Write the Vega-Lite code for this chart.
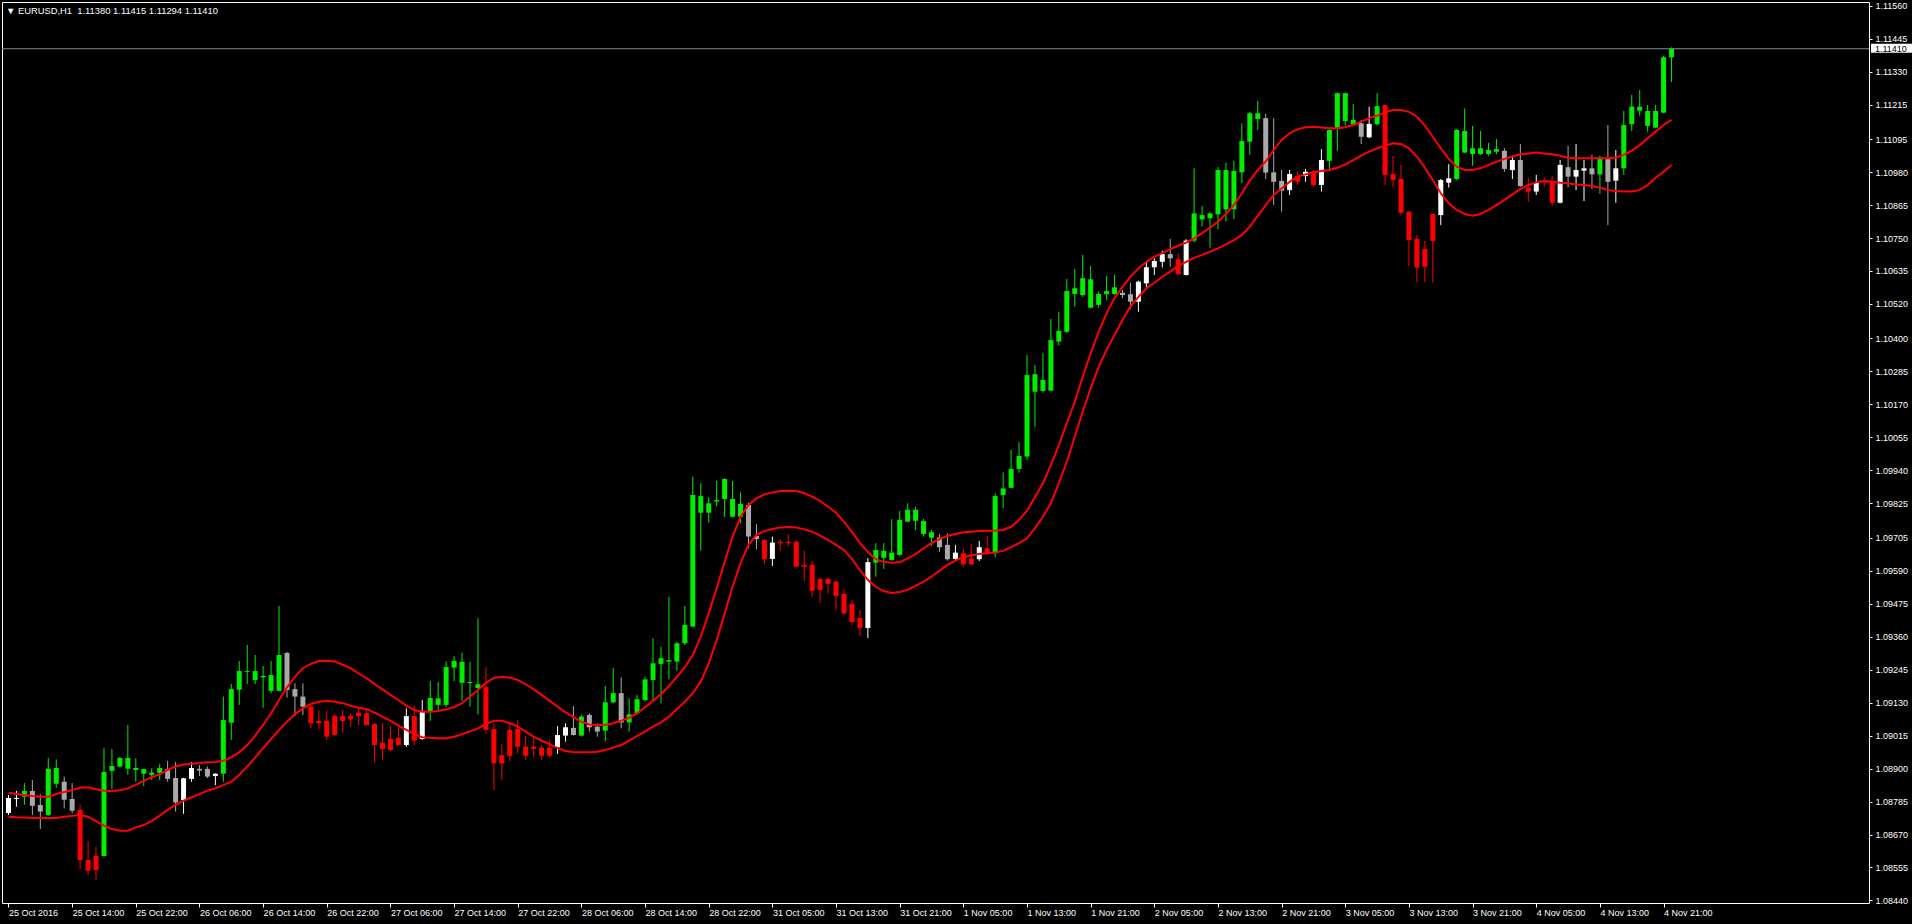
{
"$schema":"https://vega.github.io/schema/vega-lite/v6.json",
"width":1867,"height":901,
"autosize":{"type":"none"},
"padding":{"left":2,"top":2,"right":43,"bottom":21},
"background":"#000000",
"config":{"view":{"stroke":"#ffffff","strokeWidth":1},
 "axis":{"labelFont":"Liberation Sans","labelFontSize":9,"labelColor":"#ffffff","tickColor":"#ffffff","tickWidth":1,"domain":false,"grid":false},
 "axisX":{"tickSize":4,"labelPadding":1},
 "axisY":{"tickSize":3,"labelPadding":3}},
"title":{"text":"▼ EURUSD,H1 \u00a01.11380 1.11415 1.11294 1.11410","anchor":"start","frame":"group","orient":"top","offset":-15,"dx":4,"color":"#ffffff","font":"Liberation Sans","fontSize":9.4,"fontWeight":"normal"},
"data":{"values":[
{"i":0,"o":1.08745,"h":1.08808,"l":1.08738,"c":1.08797,"s":"flatUp","up":1.08816,"lo":1.08732},
{"i":1,"o":1.08794,"h":1.08822,"l":1.08767,"c":1.08797,"s":"flatUp","up":1.08811,"lo":1.08730},
{"i":2,"o":1.08802,"h":1.08849,"l":1.08773,"c":1.08822,"s":"up","up":1.08808,"lo":1.08729},
{"i":3,"o":1.08822,"h":1.08860,"l":1.08738,"c":1.08770,"s":"flatDown","up":1.08804,"lo":1.08728},
{"i":4,"o":1.08773,"h":1.08810,"l":1.08689,"c":1.08750,"s":"flatDown","up":1.08802,"lo":1.08728},
{"i":5,"o":1.08738,"h":1.08937,"l":1.08735,"c":1.08899,"s":"up","up":1.08802,"lo":1.08728},
{"i":6,"o":1.08847,"h":1.08932,"l":1.08833,"c":1.08902,"s":"up","up":1.08811,"lo":1.08728},
{"i":7,"o":1.08854,"h":1.08872,"l":1.08761,"c":1.08791,"s":"flatDown","up":1.08818,"lo":1.08732},
{"i":8,"o":1.08794,"h":1.08849,"l":1.08744,"c":1.08753,"s":"flatDown","up":1.08825,"lo":1.08735},
{"i":9,"o":1.08756,"h":1.08775,"l":1.08549,"c":1.08581,"s":"down","up":1.08833,"lo":1.08738},
{"i":10,"o":1.08581,"h":1.08647,"l":1.08529,"c":1.08544,"s":"down","up":1.08835,"lo":1.08732},
{"i":11,"o":1.08596,"h":1.08628,"l":1.08511,"c":1.08546,"s":"down","up":1.08828,"lo":1.08717},
{"i":12,"o":1.08595,"h":1.08971,"l":1.08593,"c":1.08888,"s":"up","up":1.08823,"lo":1.08701},
{"i":13,"o":1.08892,"h":1.08968,"l":1.08828,"c":1.08909,"s":"up","up":1.08822,"lo":1.08689},
{"i":14,"o":1.08907,"h":1.08941,"l":1.08904,"c":1.08937,"s":"up","up":1.08824,"lo":1.08683},
{"i":15,"o":1.08899,"h":1.09052,"l":1.08878,"c":1.08937,"s":"up","up":1.08831,"lo":1.08683},
{"i":16,"o":1.08895,"h":1.08936,"l":1.08854,"c":1.08902,"s":"up","up":1.08843,"lo":1.08695},
{"i":17,"o":1.08882,"h":1.08900,"l":1.08839,"c":1.08898,"s":"up","up":1.08857,"lo":1.08703},
{"i":18,"o":1.08878,"h":1.08901,"l":1.08860,"c":1.08886,"s":"up","up":1.08870,"lo":1.08717},
{"i":19,"o":1.08885,"h":1.08915,"l":1.08860,"c":1.08902,"s":"up","up":1.08880,"lo":1.08736},
{"i":20,"o":1.08899,"h":1.08926,"l":1.08854,"c":1.08864,"s":"flatDown","up":1.08895,"lo":1.08756},
{"i":21,"o":1.08867,"h":1.08923,"l":1.08750,"c":1.08782,"s":"flatDown","up":1.08907,"lo":1.08773},
{"i":22,"o":1.08790,"h":1.08868,"l":1.08742,"c":1.08866,"s":"flatUp","up":1.08914,"lo":1.08788},
{"i":23,"o":1.08864,"h":1.08922,"l":1.08854,"c":1.08902,"s":"flatUp","up":1.08917,"lo":1.08800},
{"i":24,"o":1.08899,"h":1.08912,"l":1.08874,"c":1.08893,"s":"flatDown","up":1.08919,"lo":1.08811},
{"i":25,"o":1.08899,"h":1.08907,"l":1.08867,"c":1.08872,"s":"flatDown","up":1.08922,"lo":1.08823},
{"i":26,"o":1.08874,"h":1.08884,"l":1.08842,"c":1.08882,"s":"flatUp","up":1.08923,"lo":1.08831},
{"i":27,"o":1.08882,"h":1.09151,"l":1.08854,"c":1.09069,"s":"up","up":1.08927,"lo":1.08842},
{"i":28,"o":1.09060,"h":1.09195,"l":1.09000,"c":1.09177,"s":"up","up":1.08939,"lo":1.08854},
{"i":29,"o":1.09175,"h":1.09275,"l":1.09122,"c":1.09240,"s":"up","up":1.08957,"lo":1.08878},
{"i":30,"o":1.09237,"h":1.09331,"l":1.09195,"c":1.09240,"s":"up","up":1.08982,"lo":1.08907},
{"i":31,"o":1.09209,"h":1.09296,"l":1.09195,"c":1.09240,"s":"up","up":1.09015,"lo":1.08938},
{"i":32,"o":1.09218,"h":1.09258,"l":1.09112,"c":1.09223,"s":"up","up":1.09052,"lo":1.08971},
{"i":33,"o":1.09171,"h":1.09275,"l":1.09163,"c":1.09226,"s":"up","up":1.09093,"lo":1.09003},
{"i":34,"o":1.09171,"h":1.09467,"l":1.09170,"c":1.09296,"s":"up","up":1.09139,"lo":1.09035},
{"i":35,"o":1.09303,"h":1.09307,"l":1.09147,"c":1.09174,"s":"flatDown","up":1.09183,"lo":1.09063},
{"i":36,"o":1.09177,"h":1.09197,"l":1.09083,"c":1.09151,"s":"flatDown","up":1.09220,"lo":1.09089},
{"i":37,"o":1.09151,"h":1.09197,"l":1.09087,"c":1.09116,"s":"flatDown","up":1.09250,"lo":1.09110},
{"i":38,"o":1.09116,"h":1.09128,"l":1.09040,"c":1.09058,"s":"down","up":1.09265,"lo":1.09125},
{"i":39,"o":1.09066,"h":1.09104,"l":1.09038,"c":1.09058,"s":"down","up":1.09275,"lo":1.09133},
{"i":40,"o":1.09066,"h":1.09101,"l":1.09000,"c":1.09011,"s":"down","up":1.09276,"lo":1.09136},
{"i":41,"o":1.09084,"h":1.09089,"l":1.09015,"c":1.09017,"s":"down","up":1.09273,"lo":1.09133},
{"i":42,"o":1.09083,"h":1.09104,"l":1.09025,"c":1.09066,"s":"down","up":1.09262,"lo":1.09128},
{"i":43,"o":1.09083,"h":1.09093,"l":1.09046,"c":1.09072,"s":"down","up":1.09250,"lo":1.09119},
{"i":44,"o":1.09095,"h":1.09110,"l":1.09052,"c":1.09083,"s":"down","up":1.09232,"lo":1.09112},
{"i":45,"o":1.09093,"h":1.09110,"l":1.09050,"c":1.09052,"s":"down","up":1.09215,"lo":1.09107},
{"i":46,"o":1.09055,"h":1.09058,"l":1.08921,"c":1.08982,"s":"down","up":1.09195,"lo":1.09095},
{"i":47,"o":1.08990,"h":1.09058,"l":1.08930,"c":1.08968,"s":"down","up":1.09176,"lo":1.09081},
{"i":48,"o":1.09003,"h":1.09048,"l":1.08959,"c":1.08965,"s":"down","up":1.09157,"lo":1.09066},
{"i":49,"o":1.09007,"h":1.09046,"l":1.08980,"c":1.08982,"s":"down","up":1.09139,"lo":1.09050},
{"i":50,"o":1.08982,"h":1.09110,"l":1.08976,"c":1.09083,"s":"flatUp","up":1.09119,"lo":1.09035},
{"i":51,"o":1.09083,"h":1.09119,"l":1.08982,"c":1.08997,"s":"down","up":1.09104,"lo":1.09020},
{"i":52,"o":1.09003,"h":1.09139,"l":1.09000,"c":1.09098,"s":"flatUp","up":1.09098,"lo":1.09009},
{"i":53,"o":1.09101,"h":1.09205,"l":1.09066,"c":1.09146,"s":"up","up":1.09098,"lo":1.09007},
{"i":54,"o":1.09122,"h":1.09202,"l":1.09104,"c":1.09145,"s":"up","up":1.09101,"lo":1.09006},
{"i":55,"o":1.09122,"h":1.09274,"l":1.09114,"c":1.09254,"s":"up","up":1.09107,"lo":1.09006},
{"i":56,"o":1.09252,"h":1.09293,"l":1.09205,"c":1.09275,"s":"up","up":1.09114,"lo":1.09011},
{"i":57,"o":1.09199,"h":1.09304,"l":1.09136,"c":1.09272,"s":"up","up":1.09128,"lo":1.09020},
{"i":58,"o":1.09198,"h":1.09271,"l":1.09116,"c":1.09202,"s":"up","up":1.09151,"lo":1.09029},
{"i":59,"o":1.09181,"h":1.09424,"l":1.09089,"c":1.09194,"s":"up","up":1.09174,"lo":1.09040},
{"i":60,"o":1.09184,"h":1.09253,"l":1.09021,"c":1.09035,"s":"down","up":1.09199,"lo":1.09055},
{"i":61,"o":1.09038,"h":1.09058,"l":1.08825,"c":1.08918,"s":"down","up":1.09216,"lo":1.09067},
{"i":62,"o":1.08947,"h":1.08986,"l":1.08860,"c":1.08918,"s":"down","up":1.09220,"lo":1.09067},
{"i":63,"o":1.09035,"h":1.09058,"l":1.08926,"c":1.08944,"s":"down","up":1.09217,"lo":1.09058},
{"i":64,"o":1.09038,"h":1.09069,"l":1.08953,"c":1.08976,"s":"down","up":1.09209,"lo":1.09046},
{"i":65,"o":1.08976,"h":1.09014,"l":1.08930,"c":1.08945,"s":"down","up":1.09194,"lo":1.09029},
{"i":66,"o":1.08976,"h":1.09011,"l":1.08939,"c":1.08969,"s":"down","up":1.09176,"lo":1.09011},
{"i":67,"o":1.08973,"h":1.08982,"l":1.08930,"c":1.08945,"s":"down","up":1.09157,"lo":1.08997},
{"i":68,"o":1.08973,"h":1.09000,"l":1.08939,"c":1.08945,"s":"down","up":1.09137,"lo":1.08985},
{"i":69,"o":1.08974,"h":1.09048,"l":1.08951,"c":1.09017,"s":"flatUp","up":1.09116,"lo":1.08971},
{"i":70,"o":1.09015,"h":1.09058,"l":1.08994,"c":1.09044,"s":"flatUp","up":1.09096,"lo":1.08961},
{"i":71,"o":1.09042,"h":1.09118,"l":1.09015,"c":1.09017,"s":"flatDown","up":1.09079,"lo":1.08958},
{"i":72,"o":1.09015,"h":1.09087,"l":1.09011,"c":1.09081,"s":"up","up":1.09063,"lo":1.08957},
{"i":73,"o":1.09087,"h":1.09093,"l":1.09029,"c":1.09044,"s":"flatDown","up":1.09054,"lo":1.08957},
{"i":74,"o":1.09046,"h":1.09058,"l":1.09011,"c":1.09029,"s":"flatDown","up":1.09052,"lo":1.08959},
{"i":75,"o":1.09032,"h":1.09188,"l":1.08994,"c":1.09131,"s":"up","up":1.09052,"lo":1.08965},
{"i":76,"o":1.09131,"h":1.09250,"l":1.09128,"c":1.09163,"s":"up","up":1.09058,"lo":1.08973},
{"i":77,"o":1.09163,"h":1.09218,"l":1.09040,"c":1.09061,"s":"flatDown","up":1.09067,"lo":1.08982},
{"i":78,"o":1.09061,"h":1.09145,"l":1.09029,"c":1.09089,"s":"up","up":1.09077,"lo":1.08997},
{"i":79,"o":1.09093,"h":1.09157,"l":1.09087,"c":1.09142,"s":"up","up":1.09093,"lo":1.09014},
{"i":80,"o":1.09139,"h":1.09220,"l":1.09133,"c":1.09211,"s":"up","up":1.09114,"lo":1.09029},
{"i":81,"o":1.09209,"h":1.09354,"l":1.09139,"c":1.09267,"s":"up","up":1.09136,"lo":1.09046},
{"i":82,"o":1.09265,"h":1.09325,"l":1.09128,"c":1.09285,"s":"up","up":1.09160,"lo":1.09061},
{"i":83,"o":1.09273,"h":1.09499,"l":1.09211,"c":1.09278,"s":"up","up":1.09188,"lo":1.09081},
{"i":84,"o":1.09273,"h":1.09342,"l":1.09241,"c":1.09337,"s":"up","up":1.09220,"lo":1.09107},
{"i":85,"o":1.09337,"h":1.09467,"l":1.09331,"c":1.09401,"s":"up","up":1.09253,"lo":1.09133},
{"i":86,"o":1.09395,"h":1.09918,"l":1.09393,"c":1.09854,"s":"up","up":1.09296,"lo":1.09163},
{"i":87,"o":1.09792,"h":1.09895,"l":1.09660,"c":1.09850,"s":"up","up":1.09360,"lo":1.09203},
{"i":88,"o":1.09792,"h":1.09846,"l":1.09757,"c":1.09825,"s":"up","up":1.09441,"lo":1.09267},
{"i":89,"o":1.09831,"h":1.09903,"l":1.09813,"c":1.09836,"s":"up","up":1.09529,"lo":1.09348},
{"i":90,"o":1.09840,"h":1.09912,"l":1.09778,"c":1.09910,"s":"up","up":1.09621,"lo":1.09441},
{"i":91,"o":1.09840,"h":1.09903,"l":1.09776,"c":1.09778,"s":"up","up":1.09709,"lo":1.09534},
{"i":92,"o":1.09778,"h":1.09863,"l":1.09755,"c":1.09823,"s":"up","up":1.09778,"lo":1.09616},
{"i":93,"o":1.09819,"h":1.09827,"l":1.09668,"c":1.09709,"s":"flatDown","up":1.09819,"lo":1.09680},
{"i":94,"o":1.09711,"h":1.09752,"l":1.09665,"c":1.09700,"s":"flatDown","up":1.09842,"lo":1.09715},
{"i":95,"o":1.09697,"h":1.09700,"l":1.09612,"c":1.09630,"s":"down","up":1.09856,"lo":1.09728},
{"i":96,"o":1.09631,"h":1.09709,"l":1.09606,"c":1.09688,"s":"flatUp","up":1.09863,"lo":1.09735},
{"i":97,"o":1.09691,"h":1.09700,"l":1.09659,"c":1.09686,"s":"down","up":1.09868,"lo":1.09741},
{"i":98,"o":1.09691,"h":1.09717,"l":1.09674,"c":1.09686,"s":"down","up":1.09869,"lo":1.09742},
{"i":99,"o":1.09691,"h":1.09697,"l":1.09602,"c":1.09604,"s":"down","up":1.09868,"lo":1.09741},
{"i":100,"o":1.09610,"h":1.09659,"l":1.09554,"c":1.09604,"s":"down","up":1.09860,"lo":1.09734},
{"i":101,"o":1.09610,"h":1.09624,"l":1.09499,"c":1.09520,"s":"down","up":1.09848,"lo":1.09726},
{"i":102,"o":1.09561,"h":1.09567,"l":1.09478,"c":1.09523,"s":"down","up":1.09833,"lo":1.09712},
{"i":103,"o":1.09561,"h":1.09567,"l":1.09511,"c":1.09544,"s":"down","up":1.09813,"lo":1.09697},
{"i":104,"o":1.09552,"h":1.09554,"l":1.09451,"c":1.09502,"s":"down","up":1.09792,"lo":1.09680},
{"i":105,"o":1.09509,"h":1.09526,"l":1.09436,"c":1.09441,"s":"down","up":1.09760,"lo":1.09662},
{"i":106,"o":1.09474,"h":1.09488,"l":1.09401,"c":1.09411,"s":"down","up":1.09725,"lo":1.09631},
{"i":107,"o":1.09425,"h":1.09453,"l":1.09362,"c":1.09390,"s":"down","up":1.09687,"lo":1.09592},
{"i":108,"o":1.09390,"h":1.09634,"l":1.09355,"c":1.09620,"s":"flatUp","up":1.09655,"lo":1.09558},
{"i":109,"o":1.09618,"h":1.09686,"l":1.09569,"c":1.09662,"s":"up","up":1.09630,"lo":1.09533},
{"i":110,"o":1.09635,"h":1.09686,"l":1.09596,"c":1.09659,"s":"up","up":1.09620,"lo":1.09519},
{"i":111,"o":1.09627,"h":1.09770,"l":1.09625,"c":1.09653,"s":"up","up":1.09618,"lo":1.09512},
{"i":112,"o":1.09645,"h":1.09798,"l":1.09642,"c":1.09767,"s":"up","up":1.09619,"lo":1.09516},
{"i":113,"o":1.09761,"h":1.09825,"l":1.09759,"c":1.09802,"s":"up","up":1.09633,"lo":1.09523},
{"i":114,"o":1.09764,"h":1.09813,"l":1.09732,"c":1.09802,"s":"up","up":1.09648,"lo":1.09537},
{"i":115,"o":1.09763,"h":1.09770,"l":1.09709,"c":1.09718,"s":"up","up":1.09668,"lo":1.09552},
{"i":116,"o":1.09724,"h":1.09732,"l":1.09677,"c":1.09705,"s":"up","up":1.09686,"lo":1.09569},
{"i":117,"o":1.09705,"h":1.09718,"l":1.09656,"c":1.09672,"s":"flatDown","up":1.09700,"lo":1.09590},
{"i":118,"o":1.09680,"h":1.09720,"l":1.09625,"c":1.09630,"s":"flatDown","up":1.09711,"lo":1.09610},
{"i":119,"o":1.09631,"h":1.09680,"l":1.09628,"c":1.09653,"s":"flatUp","up":1.09718,"lo":1.09625},
{"i":120,"o":1.09651,"h":1.09665,"l":1.09602,"c":1.09612,"s":"down","up":1.09724,"lo":1.09637},
{"i":121,"o":1.09633,"h":1.09683,"l":1.09610,"c":1.09612,"s":"down","up":1.09726,"lo":1.09644},
{"i":122,"o":1.09630,"h":1.09694,"l":1.09624,"c":1.09672,"s":"flatUp","up":1.09728,"lo":1.09648},
{"i":123,"o":1.09668,"h":1.09711,"l":1.09646,"c":1.09648,"s":"down","up":1.09729,"lo":1.09651},
{"i":124,"o":1.09651,"h":1.09860,"l":1.09637,"c":1.09850,"s":"up","up":1.09729,"lo":1.09653},
{"i":125,"o":1.09854,"h":1.09933,"l":1.09808,"c":1.09877,"s":"up","up":1.09732,"lo":1.09659},
{"i":126,"o":1.09879,"h":1.10011,"l":1.09878,"c":1.09945,"s":"up","up":1.09743,"lo":1.09672},
{"i":127,"o":1.09945,"h":1.10038,"l":1.09932,"c":1.09990,"s":"up","up":1.09767,"lo":1.09686},
{"i":128,"o":1.09988,"h":1.10342,"l":1.09976,"c":1.10272,"s":"up","up":1.09799,"lo":1.09703},
{"i":129,"o":1.10275,"h":1.10307,"l":1.10092,"c":1.10214,"s":"up","up":1.09846,"lo":1.09738},
{"i":130,"o":1.10217,"h":1.10348,"l":1.10211,"c":1.10255,"s":"up","up":1.09895,"lo":1.09778},
{"i":131,"o":1.10218,"h":1.10468,"l":1.10216,"c":1.10394,"s":"up","up":1.09959,"lo":1.09825},
{"i":132,"o":1.10389,"h":1.10493,"l":1.10375,"c":1.10426,"s":"up","up":1.10028,"lo":1.09895},
{"i":133,"o":1.10423,"h":1.10607,"l":1.10418,"c":1.10565,"s":"up","up":1.10104,"lo":1.09970},
{"i":134,"o":1.10555,"h":1.10642,"l":1.10511,"c":1.10575,"s":"up","up":1.10179,"lo":1.10057},
{"i":135,"o":1.10551,"h":1.10691,"l":1.10545,"c":1.10610,"s":"up","up":1.10266,"lo":1.10144},
{"i":136,"o":1.10606,"h":1.10653,"l":1.10505,"c":1.10507,"s":"up","up":1.10348,"lo":1.10226},
{"i":137,"o":1.10517,"h":1.10563,"l":1.10507,"c":1.10555,"s":"up","up":1.10423,"lo":1.10301},
{"i":138,"o":1.10554,"h":1.10618,"l":1.10534,"c":1.10565,"s":"up","up":1.10488,"lo":1.10360},
{"i":139,"o":1.10555,"h":1.10621,"l":1.10551,"c":1.10578,"s":"up","up":1.10540,"lo":1.10412},
{"i":140,"o":1.10559,"h":1.10569,"l":1.10540,"c":1.10551,"s":"flatDown","up":1.10580,"lo":1.10464},
{"i":141,"o":1.10554,"h":1.10594,"l":1.10502,"c":1.10528,"s":"flatDown","up":1.10615,"lo":1.10511},
{"i":142,"o":1.10528,"h":1.10601,"l":1.10493,"c":1.10598,"s":"flatUp","up":1.10644,"lo":1.10545},
{"i":143,"o":1.10592,"h":1.10667,"l":1.10577,"c":1.10648,"s":"flatUp","up":1.10667,"lo":1.10575},
{"i":144,"o":1.10648,"h":1.10679,"l":1.10621,"c":1.10670,"s":"flatUp","up":1.10685,"lo":1.10594},
{"i":145,"o":1.10667,"h":1.10706,"l":1.10647,"c":1.10694,"s":"flatUp","up":1.10697,"lo":1.10615},
{"i":146,"o":1.10694,"h":1.10747,"l":1.10650,"c":1.10679,"s":"flatDown","up":1.10711,"lo":1.10633},
{"i":147,"o":1.10676,"h":1.10697,"l":1.10619,"c":1.10624,"s":"down","up":1.10723,"lo":1.10653},
{"i":148,"o":1.10621,"h":1.10746,"l":1.10619,"c":1.10741,"s":"flatUp","up":1.10734,"lo":1.10667},
{"i":149,"o":1.10741,"h":1.10993,"l":1.10735,"c":1.10836,"s":"up","up":1.10749,"lo":1.10681},
{"i":150,"o":1.10830,"h":1.10862,"l":1.10790,"c":1.10815,"s":"up","up":1.10767,"lo":1.10691},
{"i":151,"o":1.10819,"h":1.10840,"l":1.10716,"c":1.10836,"s":"up","up":1.10786,"lo":1.10702},
{"i":152,"o":1.10833,"h":1.10997,"l":1.10780,"c":1.10987,"s":"up","up":1.10807,"lo":1.10714},
{"i":153,"o":1.10987,"h":1.11013,"l":1.10807,"c":1.10850,"s":"up","up":1.10834,"lo":1.10728},
{"i":154,"o":1.10850,"h":1.11019,"l":1.10816,"c":1.10984,"s":"up","up":1.10865,"lo":1.10743},
{"i":155,"o":1.10979,"h":1.11150,"l":1.10941,"c":1.11088,"s":"up","up":1.10906,"lo":1.10761},
{"i":156,"o":1.11086,"h":1.11190,"l":1.11040,"c":1.11185,"s":"up","up":1.10950,"lo":1.10790},
{"i":157,"o":1.11165,"h":1.11228,"l":1.11127,"c":1.11185,"s":"up","up":1.10987,"lo":1.10827},
{"i":158,"o":1.11168,"h":1.11183,"l":1.10955,"c":1.10978,"s":"flatDown","up":1.11017,"lo":1.10865},
{"i":159,"o":1.10979,"h":1.11168,"l":1.10865,"c":1.10946,"s":"flatDown","up":1.11057,"lo":1.10900},
{"i":160,"o":1.10949,"h":1.10987,"l":1.10842,"c":1.10915,"s":"flatDown","up":1.11092,"lo":1.10923},
{"i":161,"o":1.10917,"h":1.10987,"l":1.10900,"c":1.10973,"s":"flatUp","up":1.11115,"lo":1.10946},
{"i":162,"o":1.10966,"h":1.10981,"l":1.10935,"c":1.10946,"s":"down","up":1.11129,"lo":1.10964},
{"i":163,"o":1.10966,"h":1.10991,"l":1.10946,"c":1.10981,"s":"flatUp","up":1.11136,"lo":1.10972},
{"i":164,"o":1.10981,"h":1.10987,"l":1.10929,"c":1.10935,"s":"down","up":1.11138,"lo":1.10979},
{"i":165,"o":1.10935,"h":1.11060,"l":1.10912,"c":1.11022,"s":"flatUp","up":1.11135,"lo":1.10984},
{"i":166,"o":1.11019,"h":1.11129,"l":1.10987,"c":1.11127,"s":"up","up":1.11133,"lo":1.10987},
{"i":167,"o":1.11133,"h":1.11257,"l":1.11054,"c":1.11255,"s":"up","up":1.11133,"lo":1.10995},
{"i":168,"o":1.11255,"h":1.11257,"l":1.11142,"c":1.11158,"s":"up","up":1.11136,"lo":1.11007},
{"i":169,"o":1.11162,"h":1.11217,"l":1.11142,"c":1.11147,"s":"up","up":1.11144,"lo":1.11022},
{"i":170,"o":1.11150,"h":1.11162,"l":1.11078,"c":1.11103,"s":"flatDown","up":1.11156,"lo":1.11037},
{"i":171,"o":1.11101,"h":1.11208,"l":1.11098,"c":1.11148,"s":"flatUp","up":1.11168,"lo":1.11051},
{"i":172,"o":1.11147,"h":1.11255,"l":1.11142,"c":1.11210,"s":"up","up":1.11177,"lo":1.11063},
{"i":173,"o":1.11214,"h":1.11216,"l":1.10935,"c":1.10970,"s":"down","up":1.11188,"lo":1.11072},
{"i":174,"o":1.10973,"h":1.11036,"l":1.10929,"c":1.10952,"s":"down","up":1.11196,"lo":1.11080},
{"i":175,"o":1.10956,"h":1.11005,"l":1.10828,"c":1.10838,"s":"down","up":1.11196,"lo":1.11078},
{"i":176,"o":1.10842,"h":1.10844,"l":1.10653,"c":1.10743,"s":"down","up":1.11190,"lo":1.11063},
{"i":177,"o":1.10747,"h":1.10761,"l":1.10596,"c":1.10647,"s":"down","up":1.11173,"lo":1.11034},
{"i":178,"o":1.10650,"h":1.10740,"l":1.10596,"c":1.10712,"s":"down","up":1.11142,"lo":1.10995},
{"i":179,"o":1.10740,"h":1.10835,"l":1.10594,"c":1.10834,"s":"down","up":1.11103,"lo":1.10952},
{"i":180,"o":1.10830,"h":1.10956,"l":1.10795,"c":1.10952,"s":"flatUp","up":1.11063,"lo":1.10906},
{"i":181,"o":1.10943,"h":1.11008,"l":1.10926,"c":1.10958,"s":"flatUp","up":1.11026,"lo":1.10871},
{"i":182,"o":1.10956,"h":1.11130,"l":1.10952,"c":1.11127,"s":"up","up":1.10999,"lo":1.10848},
{"i":183,"o":1.11123,"h":1.11202,"l":1.11047,"c":1.11048,"s":"up","up":1.10987,"lo":1.10834},
{"i":184,"o":1.11043,"h":1.11141,"l":1.11002,"c":1.11063,"s":"up","up":1.10987,"lo":1.10828},
{"i":185,"o":1.11063,"h":1.11123,"l":1.11040,"c":1.11043,"s":"up","up":1.10993,"lo":1.10834},
{"i":186,"o":1.11043,"h":1.11082,"l":1.11037,"c":1.11057,"s":"up","up":1.11005,"lo":1.10848},
{"i":187,"o":1.11051,"h":1.11095,"l":1.11042,"c":1.11060,"s":"up","up":1.11016,"lo":1.10865},
{"i":188,"o":1.11054,"h":1.11063,"l":1.10981,"c":1.10991,"s":"flatDown","up":1.11026,"lo":1.10883},
{"i":189,"o":1.10987,"h":1.11037,"l":1.10956,"c":1.11022,"s":"flatUp","up":1.11034,"lo":1.10902},
{"i":190,"o":1.11022,"h":1.11078,"l":1.10929,"c":1.10931,"s":"flatDown","up":1.11042,"lo":1.10921},
{"i":191,"o":1.10926,"h":1.10960,"l":1.10877,"c":1.10912,"s":"down","up":1.11045,"lo":1.10935},
{"i":192,"o":1.10912,"h":1.10970,"l":1.10900,"c":1.10943,"s":"flatUp","up":1.11048,"lo":1.10944},
{"i":193,"o":1.10949,"h":1.10960,"l":1.10929,"c":1.10944,"s":"down","up":1.11045,"lo":1.10949},
{"i":194,"o":1.10946,"h":1.10966,"l":1.10863,"c":1.10873,"s":"down","up":1.11042,"lo":1.10946},
{"i":195,"o":1.10873,"h":1.11022,"l":1.10871,"c":1.11005,"s":"flatUp","up":1.11037,"lo":1.10943},
{"i":196,"o":1.10997,"h":1.11071,"l":1.10926,"c":1.10964,"s":"flatDown","up":1.11030,"lo":1.10941},
{"i":197,"o":1.10964,"h":1.11078,"l":1.10917,"c":1.10987,"s":"flatUp","up":1.11028,"lo":1.10937},
{"i":198,"o":1.10985,"h":1.11022,"l":1.10879,"c":1.10993,"s":"flatUp","up":1.11028,"lo":1.10935},
{"i":199,"o":1.10993,"h":1.11040,"l":1.10921,"c":1.10972,"s":"flatDown","up":1.11028,"lo":1.10931},
{"i":200,"o":1.10972,"h":1.11037,"l":1.10904,"c":1.11031,"s":"up","up":1.11028,"lo":1.10926},
{"i":201,"o":1.11025,"h":1.11144,"l":1.10795,"c":1.10946,"s":"flatDown","up":1.11028,"lo":1.10917},
{"i":202,"o":1.10950,"h":1.11057,"l":1.10873,"c":1.10993,"s":"flatUp","up":1.11031,"lo":1.10914},
{"i":203,"o":1.10993,"h":1.11193,"l":1.10970,"c":1.11144,"s":"up","up":1.11040,"lo":1.10912},
{"i":204,"o":1.11147,"h":1.11249,"l":1.11123,"c":1.11208,"s":"up","up":1.11055,"lo":1.10912},
{"i":205,"o":1.11208,"h":1.11266,"l":1.11176,"c":1.11194,"s":"up","up":1.11074,"lo":1.10917},
{"i":206,"o":1.11193,"h":1.11214,"l":1.11121,"c":1.11141,"s":"up","up":1.11098,"lo":1.10935},
{"i":207,"o":1.11135,"h":1.11214,"l":1.11133,"c":1.11193,"s":"up","up":1.11121,"lo":1.10960},
{"i":208,"o":1.11187,"h":1.11385,"l":1.11185,"c":1.11380,"s":"up","up":1.11144,"lo":1.10981},
{"i":209,"o":1.11380,"h":1.11415,"l":1.11294,"c":1.11410,"s":"up","up":1.11162,"lo":1.11005}
]},
"layer":[
{"transform":[{"filter":"datum.i == 209"}],
 "mark":{"type":"rule","color":"#7f8a97","strokeWidth":1},
 "encoding":{"y":{"field":"c","type":"quantitative","scale":{"domain":[1.084312,1.11573],"nice":false,"zero":false},
   "axis":{"orient":"right","title":null,"values":[1.0844,1.08555,1.0867,1.08785,1.089,1.09015,1.0913,1.09245,1.0936,1.09475,1.0959,1.09705,1.09825,1.0994,1.10055,1.1017,1.10285,1.104,1.1052,1.10635,1.1075,1.10865,1.1098,1.11095,1.11215,1.1133,1.11445,1.1156],"format":".5f","labelBaseline":"middle","labelOverlap":false,"labelFlush":false,"labelBound":false}}}},
{"mark":{"type":"rule","strokeWidth":1},
 "encoding":{
  "x":{"field":"i","type":"quantitative","scale":{"domain":[-0.1875,233.1875],"nice":false,"zero":false},
   "axis":{"orient":"bottom","title":null,"values":[0,8,16,24,32,40,48,56,64,72,80,88,96,104,112,120,128,136,144,152,160,168,176,184,192,200,208],
    "labelExpr":"['25 Oct 2016','25 Oct 14:00','25 Oct 22:00','26 Oct 06:00','26 Oct 14:00','26 Oct 22:00','27 Oct 06:00','27 Oct 14:00','27 Oct 22:00','28 Oct 06:00','28 Oct 14:00','28 Oct 22:00','31 Oct 05:00','31 Oct 13:00','31 Oct 21:00','1 Nov 05:00','1 Nov 13:00','1 Nov 21:00','2 Nov 05:00','2 Nov 13:00','2 Nov 21:00','3 Nov 05:00','3 Nov 13:00','3 Nov 21:00','4 Nov 05:00','4 Nov 13:00','4 Nov 21:00'][round(datum.value/8)]",
    "labelAlign":"left","labelBaseline":"top","labelOverlap":false,"labelFlush":false,"labelBound":false,"labelAngle":0}},
  "y":{"field":"l","type":"quantitative","scale":{"domain":[1.084312,1.11573],"nice":false,"zero":false},
   "axis":{"orient":"right","title":null,"values":[1.0844,1.08555,1.0867,1.08785,1.089,1.09015,1.0913,1.09245,1.0936,1.09475,1.0959,1.09705,1.09825,1.0994,1.10055,1.1017,1.10285,1.104,1.1052,1.10635,1.1075,1.10865,1.1098,1.11095,1.11215,1.1133,1.11445,1.1156],"format":".5f","labelBaseline":"middle","labelOverlap":false,"labelFlush":false,"labelBound":false}},
  "y2":{"field":"h"},
  "color":{"field":"s","type":"nominal","scale":{"domain":["up","down","flatUp","flatDown"],"range":["#00ee00","#ff0000","#ffffff","#a9a9a9"]},"legend":null}}},
{"mark":{"type":"bar","width":5},
 "encoding":{
  "x":{"field":"i","type":"quantitative","scale":{"domain":[-0.1875,233.1875],"nice":false,"zero":false},
   "axis":{"orient":"bottom","title":null,"values":[0,8,16,24,32,40,48,56,64,72,80,88,96,104,112,120,128,136,144,152,160,168,176,184,192,200,208],
    "labelExpr":"['25 Oct 2016','25 Oct 14:00','25 Oct 22:00','26 Oct 06:00','26 Oct 14:00','26 Oct 22:00','27 Oct 06:00','27 Oct 14:00','27 Oct 22:00','28 Oct 06:00','28 Oct 14:00','28 Oct 22:00','31 Oct 05:00','31 Oct 13:00','31 Oct 21:00','1 Nov 05:00','1 Nov 13:00','1 Nov 21:00','2 Nov 05:00','2 Nov 13:00','2 Nov 21:00','3 Nov 05:00','3 Nov 13:00','3 Nov 21:00','4 Nov 05:00','4 Nov 13:00','4 Nov 21:00'][round(datum.value/8)]",
    "labelAlign":"left","labelBaseline":"top","labelOverlap":false,"labelFlush":false,"labelBound":false,"labelAngle":0}},
  "y":{"field":"o","type":"quantitative","scale":{"domain":[1.084312,1.11573],"nice":false,"zero":false},
   "axis":{"orient":"right","title":null,"values":[1.0844,1.08555,1.0867,1.08785,1.089,1.09015,1.0913,1.09245,1.0936,1.09475,1.0959,1.09705,1.09825,1.0994,1.10055,1.1017,1.10285,1.104,1.1052,1.10635,1.1075,1.10865,1.1098,1.11095,1.11215,1.1133,1.11445,1.1156],"format":".5f","labelBaseline":"middle","labelOverlap":false,"labelFlush":false,"labelBound":false}},
  "y2":{"field":"c"},
  "color":{"field":"s","type":"nominal","scale":{"domain":["up","down","flatUp","flatDown"],"range":["#00ee00","#ff0000","#ffffff","#a9a9a9"]},"legend":null}}},
{"mark":{"type":"line","color":"#ff0000","strokeWidth":2},
 "encoding":{
  "x":{"field":"i","type":"quantitative","scale":{"domain":[-0.1875,233.1875],"nice":false,"zero":false},
   "axis":{"orient":"bottom","title":null,"values":[0,8,16,24,32,40,48,56,64,72,80,88,96,104,112,120,128,136,144,152,160,168,176,184,192,200,208],
    "labelExpr":"['25 Oct 2016','25 Oct 14:00','25 Oct 22:00','26 Oct 06:00','26 Oct 14:00','26 Oct 22:00','27 Oct 06:00','27 Oct 14:00','27 Oct 22:00','28 Oct 06:00','28 Oct 14:00','28 Oct 22:00','31 Oct 05:00','31 Oct 13:00','31 Oct 21:00','1 Nov 05:00','1 Nov 13:00','1 Nov 21:00','2 Nov 05:00','2 Nov 13:00','2 Nov 21:00','3 Nov 05:00','3 Nov 13:00','3 Nov 21:00','4 Nov 05:00','4 Nov 13:00','4 Nov 21:00'][round(datum.value/8)]",
    "labelAlign":"left","labelBaseline":"top","labelOverlap":false,"labelFlush":false,"labelBound":false,"labelAngle":0}},
  "y":{"field":"up","type":"quantitative","scale":{"domain":[1.084312,1.11573],"nice":false,"zero":false},
   "axis":{"orient":"right","title":null,"values":[1.0844,1.08555,1.0867,1.08785,1.089,1.09015,1.0913,1.09245,1.0936,1.09475,1.0959,1.09705,1.09825,1.0994,1.10055,1.1017,1.10285,1.104,1.1052,1.10635,1.1075,1.10865,1.1098,1.11095,1.11215,1.1133,1.11445,1.1156],"format":".5f","labelBaseline":"middle","labelOverlap":false,"labelFlush":false,"labelBound":false}}}},
{"mark":{"type":"line","color":"#ff0000","strokeWidth":2},
 "encoding":{
  "x":{"field":"i","type":"quantitative","scale":{"domain":[-0.1875,233.1875],"nice":false,"zero":false},
   "axis":{"orient":"bottom","title":null,"values":[0,8,16,24,32,40,48,56,64,72,80,88,96,104,112,120,128,136,144,152,160,168,176,184,192,200,208],
    "labelExpr":"['25 Oct 2016','25 Oct 14:00','25 Oct 22:00','26 Oct 06:00','26 Oct 14:00','26 Oct 22:00','27 Oct 06:00','27 Oct 14:00','27 Oct 22:00','28 Oct 06:00','28 Oct 14:00','28 Oct 22:00','31 Oct 05:00','31 Oct 13:00','31 Oct 21:00','1 Nov 05:00','1 Nov 13:00','1 Nov 21:00','2 Nov 05:00','2 Nov 13:00','2 Nov 21:00','3 Nov 05:00','3 Nov 13:00','3 Nov 21:00','4 Nov 05:00','4 Nov 13:00','4 Nov 21:00'][round(datum.value/8)]",
    "labelAlign":"left","labelBaseline":"top","labelOverlap":false,"labelFlush":false,"labelBound":false,"labelAngle":0}},
  "y":{"field":"lo","type":"quantitative","scale":{"domain":[1.084312,1.11573],"nice":false,"zero":false},
   "axis":{"orient":"right","title":null,"values":[1.0844,1.08555,1.0867,1.08785,1.089,1.09015,1.0913,1.09245,1.0936,1.09475,1.0959,1.09705,1.09825,1.0994,1.10055,1.1017,1.10285,1.104,1.1052,1.10635,1.1075,1.10865,1.1098,1.11095,1.11215,1.1133,1.11445,1.1156],"format":".5f","labelBaseline":"middle","labelOverlap":false,"labelFlush":false,"labelBound":false}}}},
{"transform":[{"filter":"datum.i == 209"}],
 "mark":{"type":"rect","color":"#ffffff","xOffset":2,"x2Offset":43,"yOffset":-5,"y2Offset":4},
 "encoding":{
  "x":{"value":"width"},"x2":{"value":"width"},
  "y":{"field":"c","type":"quantitative","scale":{"domain":[1.084312,1.11573],"nice":false,"zero":false},
   "axis":{"orient":"right","title":null,"values":[1.0844,1.08555,1.0867,1.08785,1.089,1.09015,1.0913,1.09245,1.0936,1.09475,1.0959,1.09705,1.09825,1.0994,1.10055,1.1017,1.10285,1.104,1.1052,1.10635,1.1075,1.10865,1.1098,1.11095,1.11215,1.1133,1.11445,1.1156],"format":".5f","labelBaseline":"middle","labelOverlap":false,"labelFlush":false,"labelBound":false}},
  "y2":{"field":"c"}}},
{"transform":[{"filter":"datum.i == 209"}],
 "mark":{"type":"text","align":"left","baseline":"middle","dx":6,"color":"#000000","font":"Liberation Sans","fontSize":9},
 "encoding":{
  "x":{"value":"width"},
  "y":{"field":"c","type":"quantitative","scale":{"domain":[1.084312,1.11573],"nice":false,"zero":false},
   "axis":{"orient":"right","title":null,"values":[1.0844,1.08555,1.0867,1.08785,1.089,1.09015,1.0913,1.09245,1.0936,1.09475,1.0959,1.09705,1.09825,1.0994,1.10055,1.1017,1.10285,1.104,1.1052,1.10635,1.1075,1.10865,1.1098,1.11095,1.11215,1.1133,1.11445,1.1156],"format":".5f","labelBaseline":"middle","labelOverlap":false,"labelFlush":false,"labelBound":false}},
  "text":{"field":"c","type":"quantitative","format":".5f"}}}
]
}
